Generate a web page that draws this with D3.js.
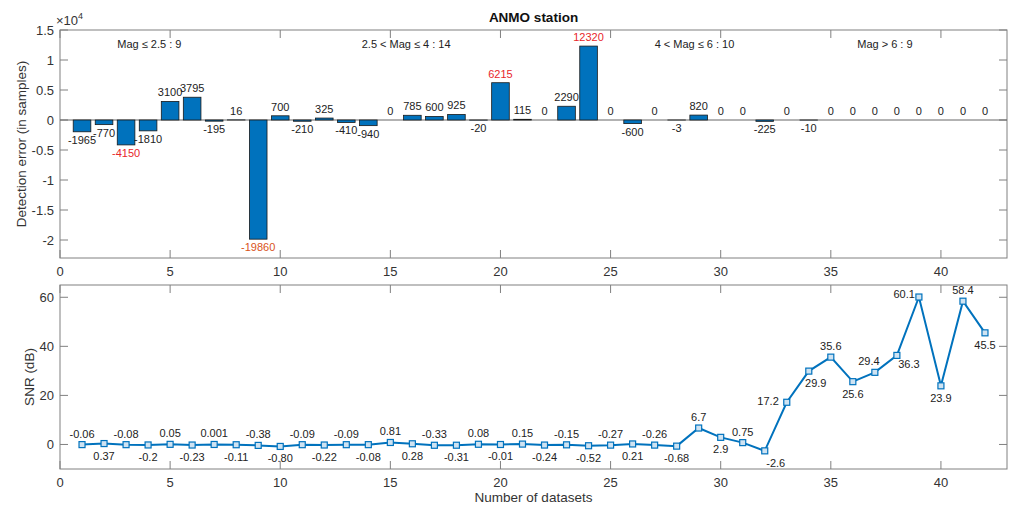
<!DOCTYPE html>
<html>
<head>
<meta charset="utf-8">
<script src="https://cdn.jsdelivr.net/npm/d3@7"></script>
<style>
  body { margin: 0; background: #fff; }
  svg { font-family: "Liberation Sans", Arial, Helvetica, sans-serif; }
  .tick-label { font-size: 13px; fill: #333; }
  .bar-label, .pt-label { font-size: 11px; fill: #222; }
  .axis-title { font-size: 13.5px; fill: #333; }
</style>
</head>
<body>
<svg id="chart" width="1013" height="508"></svg>
<script>
// DATA
var datasetIds = [1,2,3,4,5,6,7,8,9,10,11,12,13,14,15,16,17,18,19,20,21,
                  22,23,24,25,26,27,28,29,30,31,32,33,34,35,36,37,38,39,40,41,42];
var errValues = [-1965,-770,-4150,-1810,3100,3795,-195,16,-19860,700,-210,325,-410,-940,
                 0,785,600,925,-20,6215,115,0,2290,12320,0,-600,0,-3,820,0,0,-225,0,-10,
                 0,0,0,0,0,0,0,0];
var redIds = [3, 20, 24];
var orangeIds = [9];
var groupLabels = ["Mag \u2264 2.5 : 9", "2.5 < Mag \u2264 4 : 14", "4 < Mag \u2264 6 : 10", "Mag > 6 : 9"];
var groupStart = [2.6, 13.7, 27, 36.2];

var snrValues = [-0.06,0.37,-0.08,-0.2,0.05,-0.23,0.001,-0.11,-0.38,-0.80,-0.09,-0.22,-0.09,-0.08,
                 0.81,0.28,-0.33,-0.31,0.08,-0.01,0.15,-0.24,-0.15,-0.52,-0.27,0.21,-0.26,-0.68,
                 6.7,2.9,0.75,-2.6,17.2,29.9,35.6,25.6,29.4,36.3,60.1,23.9,58.4,45.5];
var snrLabels = ["-0.06","0.37","-0.08","-0.2","0.05","-0.23","0.001","-0.11","-0.38","-0.80",
                 "-0.09","-0.22","-0.09","-0.08","0.81","0.28","-0.33","-0.31","0.08","-0.01",
                 "0.15","-0.24","-0.15","-0.52","-0.27","0.21","-0.26","-0.68","6.7","2.9",
                 "0.75","-2.6","17.2","29.9","35.6","25.6","29.4","36.3","60.1","23.9","58.4","45.5"];

var xTicks = [0,5,10,15,20,25,30,35,40];
var errTicks = [-20000,-15000,-10000,-5000,0,5000,10000,15000];
var snrTicks = [0,20,40,60];

var BLUE = "#0072BD";
var AXIS = "#808080";

var svg = d3.select("#chart");

var x = d3.scaleLinear().domain([0, 43]).range([60, 1007]);
var yTop = d3.scaleLinear().domain([-23000, 15000]).range([258, 30]);
var yBot = d3.scaleLinear().domain([-10, 65]).range([469, 285]);

// draws a matlab-ish box with inward ticks on all four sides
function drawBox(y, top, bottom, yTicks, yFmt) {
  var g = svg.append("g");
  g.append("rect")
    .attr("x", x.range()[0]).attr("y", top)
    .attr("width", x.range()[1] - x.range()[0]).attr("height", bottom - top)
    .attr("fill", "none").attr("stroke", AXIS).attr("stroke-width", 1);

  xTicks.forEach(function(t) {
    g.append("line").attr("x1", x(t)).attr("x2", x(t)).attr("y1", bottom).attr("y2", bottom - 8)
      .attr("stroke", AXIS);
    g.append("line").attr("x1", x(t)).attr("x2", x(t)).attr("y1", top).attr("y2", top + 8)
      .attr("stroke", AXIS);
    g.append("text").attr("class", "tick-label")
      .attr("x", x(t)).attr("y", bottom + 18)
      .attr("text-anchor", "middle").text(t);
  });
  yTicks.forEach(function(t) {
    g.append("line").attr("x1", x.range()[0]).attr("x2", x.range()[0] + 8).attr("y1", y(t)).attr("y2", y(t))
      .attr("stroke", AXIS);
    g.append("line").attr("x1", x.range()[1]).attr("x2", x.range()[1] - 8).attr("y1", y(t)).attr("y2", y(t))
      .attr("stroke", AXIS);
    g.append("text").attr("class", "tick-label")
      .attr("x", x.range()[0] - 6).attr("y", y(t) + 4.5)
      .attr("text-anchor", "end").text(yFmt(t));
  });
  return g;
}

// TOP CHART
drawBox(yTop, 30, 258, errTicks, function(t) { return t / 10000; });

// zero line
svg.append("line")
  .attr("x1", x(0)).attr("x2", x(43)).attr("y1", yTop(0)).attr("y2", yTop(0))
  .attr("stroke", "#666").attr("stroke-width", 1);

var bw = x(0.8) - x(0);
svg.selectAll(".bar")
  .data(errValues)
  .enter().append("rect")
  .attr("class", "bar")
  .attr("x", function(d, i) { return x(datasetIds[i]) - bw / 2; })
  .attr("y", function(d) { return yTop(Math.max(0, d)); })
  .attr("width", bw)
  .attr("height", function(d) { return Math.abs(yTop(d) - yTop(0)); })
  .attr("fill", BLUE)
  .attr("stroke", "#1a1a1a")
  .attr("stroke-width", 0.8);

svg.selectAll(".bar-label")
  .data(errValues)
  .enter().append("text")
  .attr("class", "bar-label")
  .attr("x", function(d, i) { return x(datasetIds[i]); })
  .attr("y", function(d) { return d >= 0 ? yTop(d) - 5 : yTop(d) + 12; })
  .attr("text-anchor", "middle")
  .style("fill", function(d, i) {
    if (redIds.indexOf(datasetIds[i]) >= 0) return "#e8262b";
    if (orangeIds.indexOf(datasetIds[i]) >= 0) return "#D95319";
    return null;
  })
  .text(function(d) { return d; });

groupLabels.forEach(function(t, i) {
  svg.append("text").attr("class", "bar-label")
    .attr("x", x(groupStart[i])).attr("y", 48)
    .text(t);
});

// exponent
var ex = svg.append("text").attr("class", "tick-label").attr("x", 56).attr("y", 25);
ex.append("tspan").text("\u00d710");
ex.append("tspan").attr("dy", -6).style("font-size", "9px").text("4");

svg.append("text")
  .attr("x", x(21.5)).attr("y", 22)
  .attr("text-anchor", "middle")
  .style("font-size", "13.5px").style("font-weight", "bold").style("fill", "#111")
  .text("ANMO station");

svg.append("text").attr("class", "axis-title")
  .attr("transform", "translate(26," + ((30 + 258) / 2) + ") rotate(-90)")
  .attr("text-anchor", "middle")
  .text("Detection error (in samples)");

// BOTTOM CHART
drawBox(yBot, 285, 469, snrTicks, function(t) { return t; });

var line = d3.line()
  .x(function(d, i) { return x(datasetIds[i]); })
  .y(function(d) { return yBot(d); });

svg.append("path")
  .datum(snrValues)
  .attr("d", line)
  .attr("fill", "none")
  .attr("stroke", BLUE)
  .attr("stroke-width", 2);

svg.selectAll(".marker")
  .data(snrValues)
  .enter().append("rect")
  .attr("class", "marker")
  .attr("x", function(d, i) { return x(datasetIds[i]) - 3; })
  .attr("y", function(d) { return yBot(d) - 3; })
  .attr("width", 6).attr("height", 6)
  .attr("fill", "#cfe3f2")
  .attr("stroke", BLUE)
  .attr("stroke-width", 1.2);

// label placement: alternating above/below, with a few hand-nudged spots
var labelSpots = {
  33: [-8, 3, "end"],
  34: [7, 16, "middle"],
  37: [-6, -7, "middle"],
  38: [12, 13, "middle"],
  39: [-4, 1, "end"],
  41: [0, -7, "middle"],
  32: [11, 16, "middle"]
};
svg.selectAll(".pt-label")
  .data(snrValues)
  .enter().append("text")
  .attr("class", "pt-label")
  .each(function(d, i) {
    var id = datasetIds[i];
    var s = labelSpots[id] || (id % 2 === 1 ? [0, -7, "middle"] : [0, 16, "middle"]);
    d3.select(this)
      .attr("x", x(id) + s[0])
      .attr("y", yBot(d) + s[1])
      .attr("text-anchor", s[2])
      .text(snrLabels[i]);
  });

svg.append("text").attr("class", "axis-title")
  .attr("transform", "translate(34," + ((285 + 469) / 2) + ") rotate(-90)")
  .attr("text-anchor", "middle")
  .text("SNR (dB)");

svg.append("text").attr("class", "axis-title")
  .attr("x", x(21.5)).attr("y", 502)
  .attr("text-anchor", "middle")
  .text("Number of datasets");
</script>
</body>
</html>
